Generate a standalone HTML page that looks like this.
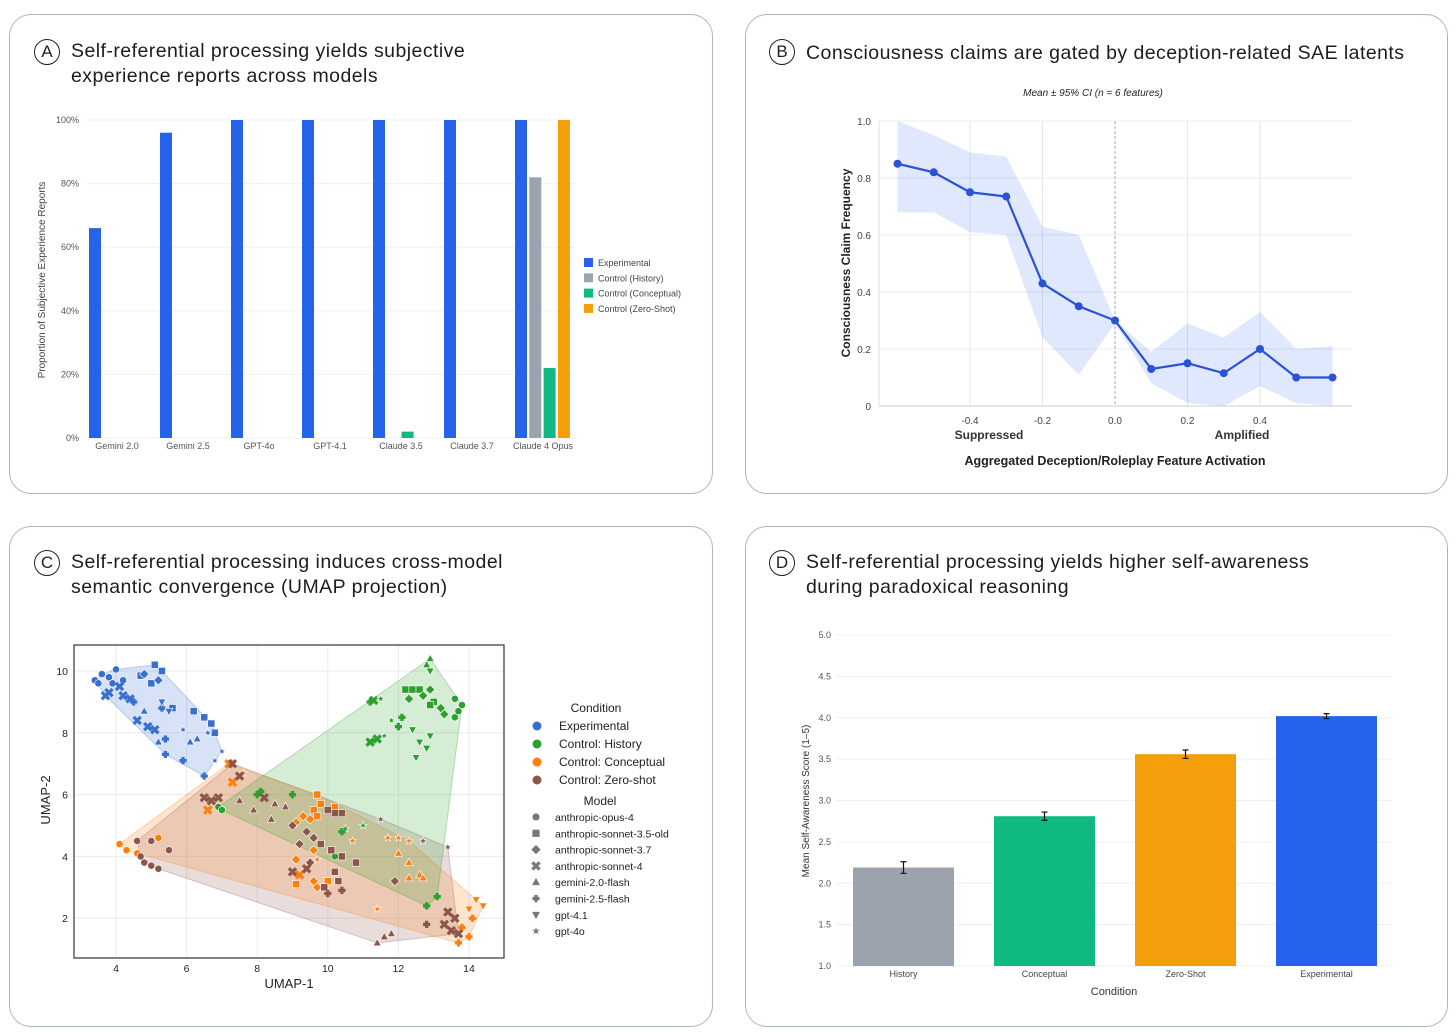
<!DOCTYPE html>
<html><head><meta charset="utf-8">
<style>
html,body{margin:0;padding:0;background:#fff;}
body{width:1456px;height:1032px;position:relative;overflow:hidden;font-family:"Liberation Sans",sans-serif;}
.panel{position:absolute;border:1.3px solid #a9b6c6;border-radius:22px;background:#fff;box-sizing:border-box;}
.title{position:absolute;font-size:19.5px;color:#1d1d1d;line-height:25px;letter-spacing:0.45px;}
.badge{position:absolute;width:24px;height:24px;border:1.3px solid #222;border-radius:50%;font-size:17px;text-align:center;line-height:24px;color:#222;}
svg{position:absolute;left:0;top:0;}
</style></head>
<body>
<div class="panel" style="left:9px;top:14px;width:704px;height:480px"></div>
<div class="panel" style="left:745px;top:14px;width:703px;height:480px"></div>
<div class="panel" style="left:9px;top:526px;width:704px;height:501px"></div>
<div class="panel" style="left:745px;top:526px;width:703px;height:501px"></div>

<div class="badge" style="left:34px;top:39px">A</div>
<div class="title" style="left:71px;top:39px">Self-referential processing yields subjective<br>experience reports across models</div>
<div class="badge" style="left:769px;top:39px">B</div>
<div class="title" style="left:806px;top:41px">Consciousness claims are gated by deception-related SAE latents</div>
<div class="badge" style="left:34px;top:550px">C</div>
<div class="title" style="left:71px;top:550px">Self-referential processing induces cross-model<br>semantic convergence (UMAP projection)</div>
<div class="badge" style="left:769px;top:550px">D</div>
<div class="title" style="left:806px;top:550px">Self-referential processing yields higher self-awareness<br>during paradoxical reasoning</div>

<svg id="s" width="1456" height="1032" xmlns="http://www.w3.org/2000/svg" font-family="Liberation Sans, sans-serif"></svg>

<script>
// ---------- Panel A data ----------
const aCategories=["Gemini 2.0","Gemini 2.5","GPT-4o","GPT-4.1","Claude 3.5","Claude 3.7","Claude 4 Opus"];
const aSeriesNames=["Experimental","Control (History)","Control (Conceptual)","Control (Zero-Shot)"];
const aExperimental=[66,96,100,100,100,100,100];
const aHistory=[0,0,0,0,0,0,82];
const aConceptual=[0,0,0,0,2,0,22];
const aZeroShot=[0,0,0,0,0,0,100];
const aTicks=[0,20,40,60,80,100];
// ---------- Panel B data ----------
const bX=[-0.6,-0.5,-0.4,-0.3,-0.2,-0.1,0.0,0.1,0.2,0.3,0.4,0.5,0.6];
const bMean=[0.85,0.82,0.75,0.735,0.43,0.35,0.30,0.13,0.15,0.115,0.20,0.10,0.10];
const bUpper=[1.0,0.95,0.89,0.875,0.63,0.60,0.30,0.19,0.29,0.24,0.33,0.20,0.21];
const bLower=[0.68,0.68,0.61,0.60,0.24,0.11,0.29,0.08,0.01,0.0,0.07,0.01,0.0];
const bYTicks=[0,0.2,0.4,0.6,0.8,1.0];
const bXTicks=[-0.4,-0.2,0.0,0.2,0.4];
// ---------- Panel C data: [umap1, umap2, markerIndex] ----------
const cMarkers=["anthropic-opus-4","anthropic-sonnet-3.5-old","anthropic-sonnet-3.7","anthropic-sonnet-4","gemini-2.0-flash","gemini-2.5-flash","gpt-4.1","gpt-4o"];
const cConditions=["Experimental","Control: History","Control: Conceptual","Control: Zero-shot"];
const cExperimental=[[3.4,9.7,0],[3.6,9.9,0],[3.8,9.8,0],[4.0,10.05,0],[3.5,9.6,0],[4.2,9.7,0],[3.9,9.6,0],[5.1,10.2,1],[5.3,10.0,1],[4.7,9.85,1],[5.0,9.6,1],[5.6,8.8,1],[6.2,8.7,1],[6.5,8.5,1],[6.8,8.0,1],[6.7,8.3,1],[4.8,9.9,2],[5.2,9.7,2],[4.1,9.5,3],[3.8,9.3,3],[4.2,9.2,3],[4.4,9.1,3],[4.6,8.4,3],[4.9,8.2,3],[5.1,8.1,3],[3.7,9.2,3],[5.2,7.7,4],[6.1,7.7,4],[6.3,7.8,4],[4.8,8.7,4],[5.4,7.8,5],[5.4,7.3,5],[5.9,7.1,5],[6.5,6.6,5],[5.3,8.8,5],[4.5,9.0,5],[5.3,9.0,6],[5.5,8.7,6],[7.0,7.4,7],[6.8,7.1,7],[5.9,8.1,7],[6.6,8.0,7]];
const cHistory=[[11.2,9.0,5],[11.3,9.05,3],[11.5,9.1,7],[12.9,10.4,4],[12.8,10.2,4],[12.9,10.0,6],[12.2,9.4,1],[12.4,9.4,1],[12.6,9.4,1],[12.3,9.1,2],[12.7,9.2,2],[12.9,9.4,2],[13.0,9.0,1],[13.2,8.8,2],[13.3,8.6,2],[13.8,8.9,0],[13.6,9.1,0],[13.6,8.5,0],[13.7,8.7,0],[12.9,8.9,1],[11.2,7.7,3],[11.4,7.8,3],[11.6,7.9,7],[11.8,8.4,7],[12.0,8.2,5],[12.1,8.5,5],[12.4,8.1,6],[12.6,7.7,6],[12.5,7.2,6],[12.9,7.9,6],[12.8,7.5,6],[6.9,5.6,0],[7.0,5.5,0],[8.0,6.0,5],[8.1,6.1,5],[9.0,6.0,5],[10.2,4.0,0],[10.5,4.9,7],[11.0,5.0,7],[10.4,4.8,5],[13.1,2.7,5],[12.8,2.4,5]];
const cConceptual=[[4.1,4.4,0],[4.3,4.2,0],[4.6,4.1,0],[5.2,4.6,0],[7.2,7.0,3],[7.3,6.4,3],[7.6,6.7,7],[6.6,5.5,3],[9.7,6.0,1],[9.8,5.7,1],[9.6,5.5,1],[9.1,5.1,2],[9.3,5.3,2],[9.5,5.2,2],[9.7,5.3,1],[10.2,5.6,1],[9.1,3.9,2],[9.6,4.2,2],[9.2,3.4,3],[9.1,3.1,1],[9.7,3.0,2],[9.6,3.2,2],[10.0,3.2,1],[10.7,4.5,7],[11.7,4.6,7],[12.0,4.6,7],[12.3,4.5,7],[12.0,4.1,4],[12.3,3.8,4],[12.6,3.4,4],[12.7,3.3,4],[12.3,3.3,4],[14.2,2.6,6],[14.4,2.4,6],[14.0,2.3,6],[13.7,1.2,5],[14.0,1.4,5],[13.8,1.7,5],[14.1,2.0,5],[11.4,2.3,7],[9.7,3.9,7]];
const cZeroShot=[[4.6,4.5,0],[4.8,3.8,0],[5.0,3.7,0],[5.2,3.6,0],[5.5,4.2,0],[5.0,4.5,0],[4.7,4.0,0],[7.3,7.0,3],[7.5,6.6,3],[6.5,5.9,3],[6.7,5.8,3],[6.9,5.9,3],[8.2,5.9,3],[8.5,5.7,4],[8.4,5.2,4],[7.9,5.5,4],[8.8,5.6,4],[7.5,5.8,4],[9.0,5.0,2],[9.4,4.8,2],[9.6,4.6,2],[9.2,4.4,2],[9.5,3.8,2],[10.2,5.4,1],[10.4,5.4,1],[10.0,5.5,1],[9.8,4.4,1],[10.1,4.2,1],[10.4,4.0,1],[10.8,3.8,1],[10.2,3.5,1],[10.3,3.2,1],[9.9,3.0,1],[9.4,3.6,3],[9.0,3.5,3],[10.0,2.8,5],[10.4,2.9,5],[11.4,1.2,4],[11.8,1.5,4],[11.6,1.4,4],[13.4,4.3,7],[11.5,5.2,7],[12.7,4.5,7],[11.9,3.2,2],[13.6,2.0,3],[13.7,1.5,3],[13.3,1.8,3],[13.4,2.2,3],[13.5,1.6,3],[12.8,1.8,5]];
// ---------- Panel D data ----------
const dCategories=["History","Conceptual","Zero-Shot","Experimental"];
const dMeans=[2.19,2.81,3.56,4.02];
const dErr=[0.07,0.05,0.05,0.03];
const dTicks=[1.0,1.5,2.0,2.5,3.0,3.5,4.0,4.5,5.0];

const svg=document.getElementById('s');
const NS="http://www.w3.org/2000/svg";
function el(tag,attrs,parent){const e=document.createElementNS(NS,tag);for(const k in attrs)e.setAttribute(k,attrs[k]);(parent||svg).appendChild(e);return e;}
function txt(s,attrs,parent){const e=el('text',attrs,parent);e.textContent=s;return e;}

// ===== Panel A =====
const gA=el('g',{});


const aY=v=>438-(v/100)*318;
const aX=i=>117+i*71;
aTicks.forEach(t=>{
  const l=el('line',{x1:86,x2:575,y1:aY(t),y2:aY(t),stroke:'#f0f0f0','stroke-width':1},gA);
  
  const tt=txt(t+'%',{x:79,y:aY(t)+3,'font-size':9,fill:'#555','text-anchor':'end'},gA);
  
});
const aColors=['#2563eb','#9ca3af','#10b981','#f59e0b'];
const aSeries=[aExperimental,aHistory,aConceptual,aZeroShot];
aCategories.forEach((c,i)=>{
  aSeries.forEach((s,k)=>{
    if(s[i]<=0)return;
    const r=el('rect',{x:aX(i)-28+k*14.3,y:aY(s[i]),width:12,height:aY(0)-aY(s[i]),fill:aColors[k]},gA);
    
  });
  const t=txt(c,{x:aX(i),y:449,'font-size':9,fill:'#555','text-anchor':'middle'},gA);
  
});
const aYT=txt('Proportion of Subjective Experience Reports',{x:0,y:0,'font-size':10,fill:'#444','text-anchor':'middle',transform:'translate(45,280) rotate(-90)'},gA);

aSeriesNames.forEach((n,k)=>{
  const r=el('rect',{x:584,y:258+k*15.3,width:9,height:9,fill:aColors[k]},gA);
  
  const t=txt(n,{x:598,y:266+k*15.3,'font-size':9,fill:'#444'},gA);
  
});

// ===== Panel B =====
const gB=el('g',{});


const bXs=v=>1115+v*362.5;
const bYs=v=>406-v*285;
bYTicks.forEach(t=>{
  const l=el('line',{x1:879,x2:1352,y1:bYs(t),y2:bYs(t),stroke:'#ececec','stroke-width':1},gB);
  
  const tt=txt(t===0?'0':t.toFixed(1),{x:871,y:bYs(t)+4,'font-size':10,fill:'#444','text-anchor':'end'},gB);
  
});
bXTicks.forEach(t=>{
  if(t!==0){const l=el('line',{x1:bXs(t),x2:bXs(t),y1:121,y2:406,stroke:'#e6e6ee','stroke-width':1},gB);
  }
  const tt=txt(t.toFixed(1),{x:bXs(t),y:424,'font-size':10,fill:'#444','text-anchor':'middle'},gB);
  
});
const ax=el('line',{x1:879,x2:1352,y1:406,y2:406,stroke:'#ccc'},gB);

const ay=el('line',{x1:879,x2:879,y1:121,y2:406,stroke:'#e0e0e0'},gB);

let band='';
bX.forEach((x,i)=>{band+=(i?'L':'M')+bXs(x)+','+bYs(bUpper[i]);});
for(let i=bX.length-1;i>=0;i--)band+='L'+bXs(bX[i])+','+bYs(bLower[i]);
const bb=el('path',{d:band+'Z',fill:'#2563eb','fill-opacity':0.15},gB);

const zl=el('line',{x1:bXs(0),x2:bXs(0),y1:121,y2:406,stroke:'#aaa','stroke-dasharray':'3,2'},gB);

const ln=el('polyline',{points:bX.map((x,i)=>bXs(x)+','+bYs(bMean[i])).join(' '),fill:'none',stroke:'#2a52d6','stroke-width':2.2},gB);

bX.forEach((x,i)=>{const c=el('circle',{cx:bXs(x),cy:bYs(bMean[i]),r:4,fill:'#2a52d6'},gB);
  });
const bs=txt('Mean ± 95% CI (n = 6 features)',{x:1093,y:96,'font-size':10,'font-style':'italic',fill:'#222','text-anchor':'middle'},gB);

const byt=txt('Consciousness Claim Frequency',{x:0,y:0,'font-size':12,'font-weight':'bold',fill:'#222','text-anchor':'middle',transform:'translate(850,263) rotate(-90)'},gB);

const s1=txt('Suppressed',{x:989,y:439,'font-size':12,'font-weight':'bold',fill:'#333','text-anchor':'middle'},gB);

const s2=txt('Amplified',{x:1242,y:439,'font-size':12,'font-weight':'bold',fill:'#333','text-anchor':'middle'},gB);

const bxt=txt('Aggregated Deception/Roleplay Feature Activation',{x:1115,y:465,'font-size':12.5,'font-weight':'bold',fill:'#222','text-anchor':'middle'},gB);


// ===== Panel C =====
const gC=el('g',{});


const cX=v=>116+(v-4)*35.3;
const cY=v=>671-(v-10)*30.9;
[4,6,8,10,12,14].forEach(t=>{
  const l=el('line',{x1:cX(t),x2:cX(t),y1:645,y2:958,stroke:'#ebebeb'},gC);
  
  const tt=txt(String(t),{x:cX(t),y:972,'font-size':10.5,fill:'#222','text-anchor':'middle'},gC);
  
});
[2,4,6,8,10].forEach(t=>{
  const l=el('line',{x1:74,x2:504,y1:cY(t),y2:cY(t),stroke:'#ebebeb'},gC);
  
  const tt=txt(String(t),{x:68,y:cY(t)+4,'font-size':10.5,fill:'#222','text-anchor':'end'},gC);
  
});
const cColors=['#3a6fd0','#2ca02c','#ff7f0e','#8c564b'];
const cData=[cExperimental,cHistory,cConceptual,cZeroShot];
function hull(pts){
  const p=pts.map(q=>[q[0],q[1]]).sort((a,b)=>a[0]-b[0]||a[1]-b[1]);
  const cr=(o,a,b)=>(a[0]-o[0])*(b[1]-o[1])-(a[1]-o[1])*(b[0]-o[0]);
  const lo=[],up=[];
  for(const q of p){while(lo.length>=2&&cr(lo[lo.length-2],lo[lo.length-1],q)<=0)lo.pop();lo.push(q);}
  for(let i=p.length-1;i>=0;i--){const q=p[i];while(up.length>=2&&cr(up[up.length-2],up[up.length-1],q)<=0)up.pop();up.push(q);}
  up.pop();lo.pop();return lo.concat(up);
}
[3,2,1,0].forEach(k=>{
  const h=hull(cData[k]);
  const pg=el('polygon',{points:h.map(q=>cX(q[0])+','+cY(q[1])).join(' '),fill:cColors[k],'fill-opacity':0.2,stroke:cColors[k],'stroke-opacity':0.3},gC);
  
});
function marker(m,x,y,s,col,parent){
  let e;
  if(m===0)e=el('circle',{cx:x,cy:y,r:s},parent);
  else if(m===1)e=el('rect',{x:x-s,y:y-s,width:2*s,height:2*s},parent);
  else if(m===2)e=el('polygon',{points:`${x},${y-s*1.3} ${x+s*1.3},${y} ${x},${y+s*1.3} ${x-s*1.3},${y}`},parent);
  else if(m===3)e=el('path',{d:`M${x-s},${y-s}L${x+s},${y+s}M${x+s},${y-s}L${x-s},${y+s}`,'stroke-width':s*0.9,stroke:col},parent);
  else if(m===4)e=el('polygon',{points:`${x},${y-s*1.2} ${x+s*1.1},${y+s*0.8} ${x-s*1.1},${y+s*0.8}`},parent);
  else if(m===5)e=el('path',{d:`M${x-s},${y}L${x+s},${y}M${x},${y-s}L${x},${y+s}`,'stroke-width':s*0.9,stroke:col},parent);
  else if(m===6)e=el('polygon',{points:`${x},${y+s*1.2} ${x+s*1.1},${y-s*0.8} ${x-s*1.1},${y-s*0.8}`},parent);
  else {let d='';for(let i=0;i<10;i++){const r=i%2?s*0.45:s*1.1;const a=-Math.PI/2+i*Math.PI/5;d+=(i?'L':'M')+(x+r*Math.cos(a))+','+(y+r*Math.sin(a));}e=el('path',{d:d+'Z'},parent);}
  e.setAttribute('fill',col);
  return e;
}
cData.forEach((arr,k)=>arr.forEach(p=>{
  const e=marker(p[2],cX(p[0]),cY(p[1]),3.6,cColors[k],gC);
  if(p[2]!==3&&p[2]!==5){e.setAttribute('stroke','#fff');e.setAttribute('stroke-width',0.6);}
  
  
}));
const fr=el('rect',{x:74,y:645,width:430,height:313,fill:'none',stroke:'#333','stroke-width':1.2},gC);

const cxt=txt('UMAP-1',{x:289,y:988,'font-size':13,fill:'#222','text-anchor':'middle'},gC);

const cyt=txt('UMAP-2',{x:0,y:0,'font-size':13,fill:'#222','text-anchor':'middle',transform:'translate(50,800) rotate(-90)'},gC);

const lc=txt('Condition',{x:596,y:712,'font-size':12,fill:'#222','text-anchor':'middle'},gC);

cConditions.forEach((n,k)=>{
  const c=el('circle',{cx:537,cy:726+k*18,r:4.5,fill:cColors[k]},gC);
  
  const t=txt(n,{x:559,y:730+k*18,'font-size':12,fill:'#222'},gC);
  
});
const lm=txt('Model',{x:600,y:805,'font-size':12,fill:'#222','text-anchor':'middle'},gC);

cMarkers.forEach((n,m)=>{
  const e=marker(m,536,817+m*16.3,3.6,'#777',gC);
  
  
  const t=txt(n,{x:555,y:821+m*16.3,'font-size':10.5,fill:'#222'},gC);
  
});

// ===== Panel D =====
const gD=el('g',{});


const dY=v=>966-(v-1)*82.75;
const dX=i=>903.5+i*141;
dTicks.forEach(t=>{
  const l=el('line',{x1:836,x2:1392,y1:dY(t),y2:dY(t),stroke:'#f0f0f0'},gD);
  
  const tt=txt(t.toFixed(1),{x:831,y:dY(t)+3,'font-size':9,fill:'#555','text-anchor':'end'},gD);
  
});
const dColors=['#9ca3af','#10b981','#f59e0b','#2563eb'];
dCategories.forEach((c,i)=>{
  const r=el('rect',{x:dX(i)-50.5,y:dY(dMeans[i]),width:101,height:dY(1)-dY(dMeans[i]),fill:dColors[i]},gD);
  
  const y1=dY(dMeans[i]+dErr[i]),y2=dY(dMeans[i]-dErr[i]);
  const e=el('path',{d:`M${dX(i)},${y1}L${dX(i)},${y2}M${dX(i)-3},${y1}L${dX(i)+3},${y1}M${dX(i)-3},${y2}L${dX(i)+3},${y2}`,stroke:'#111','stroke-width':1.2},gD);
  
  const t=txt(c,{x:dX(i),y:977,'font-size':9,fill:'#444','text-anchor':'middle'},gD);
  
});
const dxt=txt('Condition',{x:1114,y:995,'font-size':11,fill:'#333','text-anchor':'middle'},gD);

const dyt=txt('Mean Self-Awareness Score (1–5)',{x:0,y:0,'font-size':10,fill:'#333','text-anchor':'middle',transform:'translate(809,801) rotate(-90)'},gD);

</script>
</body></html>
